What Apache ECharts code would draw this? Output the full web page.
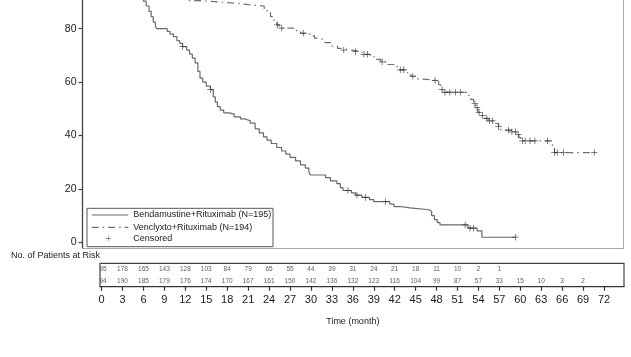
<!DOCTYPE html>
<html><head><meta charset="utf-8">
<script src="https://cdn.jsdelivr.net/npm/echarts@6/dist/echarts.min.js"></script>
<style>html,body{margin:0;padding:0;background:#fff}#c{width:631px;height:357px}</style>
</head><body><div id="c"></div>
<script>
const timeTicks = [0,3,6,9,12,15,18,21,24,27,30,33,36,39,42,45,48,51,54,57,60,63,66,69,72];
const survTicks = [0,20,40,60,80];
const seriesNames = ['Bendamustine+Rituximab (N=195)', 'Venclyxto+Rituximab (N=194)', 'Censored'];

const benSteps = [[0,100],[1,99],[2,98.5],[3,97.4],[4,95.5],[5,93.5],[5.5,92],[6,90.3],[6.4,88.5],[6.8,86.5],[7.1,84.5],[7.4,82.5],[7.7,81],[7.9,80],[9.4,79],[9.8,78],[10.3,77],[10.8,75.5],[11.2,74.5],[11.6,73.3],[12.2,72],[12.6,70.5],[13,69],[13.4,67.2],[13.8,64],[14.1,61.5],[14.5,60],[15,58.5],[15.6,57.2],[16,54.5],[16.3,52.5],[16.6,50.8],[17,49.5],[17.5,48.5],[18.3,48],[19,47],[19.9,46.2],[20.6,45.5],[21.3,44.6],[22,42.5],[22.6,41],[23.2,39.5],[23.7,38.3],[24.3,37],[25.1,35.5],[25.8,34.2],[26.4,33],[27,31.8],[27.8,30.5],[28.5,29],[29.2,27.8],[29.7,26.5],[29.9,25.2],[32.1,24.2],[32.8,23],[33.7,22],[34.2,20.5],[34.6,19.4],[35.8,18.5],[36.4,17.7],[37.3,16.8],[38.4,16],[39,15.2],[41.3,14.3],[41.9,13.4],[42.8,12.9],[44.2,12.2],[46.9,11.5],[47.3,10],[47.7,8.5],[48.1,7.4],[48.5,6.5],[52.5,5.3],[53.8,4.3],[54.5,1.9],[59.3,1.9]];
const benCensor = [11.6,15.6,35.3,36.6,37.8,40.7,52.1,52.8,53.3,59.3];

const venSteps = [[0,100],[1.5,99.5],[3,99],[4.5,98],[6,97],[7.5,96],[9,94.5],[10,93],[11,91.5],[12,90.5],[14,90],[17,89.5],[19.5,89],[21,88.5],[23.3,87.5],[23.7,86],[24.2,84.5],[24.7,83],[25.1,81.4],[25.5,80.2],[27.5,79.3],[28.5,78.3],[29.8,77.4],[30.5,76.5],[31.1,75.8],[32,74.8],[33,73.5],[33.8,72.6],[34.5,72],[35.8,71.4],[37.3,70.4],[38.5,69.5],[39.3,68.5],[40,67.6],[41,66.6],[41.9,65.8],[42.7,64.6],[43.7,63.5],[44.3,62.2],[45,61.2],[45.7,60.6],[48.3,59],[48.6,57.2],[49,56.2],[52.6,55],[52.9,53.5],[53.3,52],[53.6,50.5],[53.9,48.7],[54.3,47.5],[54.8,46.4],[55.4,45.5],[56.3,44.5],[56.9,43.3],[57.2,42],[58.8,41.4],[59.4,40.3],[59.8,39.2],[60.1,38],[64.6,35.5],[64.9,33.6],[70.6,33.6]];
const venCensor = [25.2,25.8,28.9,34.7,36.4,37.6,38.1,40.2,42.8,43.3,44.6,47.8,48.8,49.2,49.9,50.7,51.4,53.5,53.8,54.1,54.6,55.2,55.6,56,56.9,58.3,58.8,59.3,59.7,60.3,60.7,61.4,62.1,63.9,64.9,65.3,66.2,70.6];

const riskTimes = timeTicks;
const riskBen = [95,178,165,143,128,103,84,79,65,55,44,39,31,24,21,18,11,10,2,1];
const riskVen = [94,190,185,179,176,174,170,167,161,150,142,136,132,123,116,104,99,87,57,33,15,10,3,2];

function survAt(steps, t) {
  let v = steps[0][1];
  for (const [st, sv] of steps) { if (st <= t) v = sv; else break; }
  return v;
}
const plus = 'path://M-0.12,-1H0.12V1H-0.12Z M-1,-0.12H1V0.12H-1Z';
const FONT = 'Liberation Sans, Arial, sans-serif';

const chart = echarts.init(document.getElementById('c'), null, {renderer: 'canvas'});
const riskData = [];
riskBen.forEach((n, i) => riskData.push({value: [riskTimes[i], 3, n], label: i === 0 ? {offset: [1.5, 0]} : undefined}));
riskVen.forEach((n, i) => riskData.push({value: [riskTimes[i], 1, n], label: i === 0 ? {offset: [1.5, 0]} : undefined}));

chart.setOption({
  backgroundColor: '#fff',
  animation: false,
  textStyle: {fontFamily: FONT},
  grid: [
    {left: 82.5, width: 540.5, top: 0, height: 248.5, show: false},
    {left: 100, width: 524, top: 263.3, height: 23.4, show: true, borderColor: '#444', borderWidth: 1.2, backgroundColor: 'transparent'}
  ],
  xAxis: [
    {gridIndex: 0, type: 'value', min: -2.737, max: 74.72,
     axisLine: {show: true, onZero: false, lineStyle: {color: '#a8a8a8', width: 1}},
     axisTick: {show: false}, axisLabel: {show: false}, splitLine: {show: false}},
    {gridIndex: 1, type: 'value', min: -0.229, max: 74.86,
     name: 'Time (month)', nameLocation: 'middle', nameGap: 30,
     nameTextStyle: {fontSize: 9, color: '#222', padding: [0, 18.4, 0, 0]},
     axisLine: {show: true, lineStyle: {color: '#333', width: 1.2}},
     axisTick: {show: true, length: 4, customValues: timeTicks, lineStyle: {color: '#333', width: 1.2}},
     axisLabel: {customValues: timeTicks, fontSize: 11, color: '#1a1a1a', margin: 8},
     splitLine: {show: false}}
  ],
  yAxis: [
    {gridIndex: 0, type: 'value', min: -2.32, max: 90.75,
     axisLine: {show: true, onZero: false, lineStyle: {color: '#444', width: 1.3}},
     axisTick: {show: true, length: 4, customValues: survTicks, lineStyle: {color: '#444', width: 1.2}},
     axisLabel: {customValues: survTicks, fontSize: 10.5, color: '#1a1a1a', margin: 6},
     splitLine: {show: false}},
    {gridIndex: 1, type: 'value', min: 0, max: 4, show: false},
    {gridIndex: 0, type: 'value', min: -2.32, max: 90.75, position: 'right',
     axisLine: {show: true, onZero: false, lineStyle: {color: '#a8a8a8', width: 1}},
     axisTick: {show: false}, axisLabel: {show: false}, splitLine: {show: false}}
  ],
  series: [
    {name: seriesNames[0], type: 'line', xAxisIndex: 0, yAxisIndex: 0, step: 'end', showSymbol: false,
     data: benSteps, lineStyle: {color: '#6a6a6a', width: 1.2}, z: 3},
    {name: seriesNames[1], type: 'line', xAxisIndex: 0, yAxisIndex: 0, step: 'end', showSymbol: false,
     data: venSteps, lineStyle: {color: '#707070', width: 1.2, type: [7, 4, 1.5, 4]}, z: 3},
    {name: seriesNames[2], type: 'scatter', xAxisIndex: 0, yAxisIndex: 0, symbol: plus, symbolSize: 6.5,
     data: benCensor.map(t => [t, survAt(benSteps, t)]).concat(venCensor.map(t => [t, survAt(venSteps, t)])),
     itemStyle: {color: '#333'}, z: 4},
    {name: 'risk', type: 'scatter', xAxisIndex: 1, yAxisIndex: 1, symbolSize: 0.1,
     itemStyle: {color: 'transparent'},
     label: {show: true, position: 'inside', formatter: p => p.value[2], fontSize: 6.5, color: '#333'},
     data: riskData}
  ],
  graphic: [
    {type: 'text', left: 11, top: 251.5, style: {text: 'No. of Patients at Risk', fontSize: 9, fill: '#1a1a1a', fontFamily: FONT}},
    {type: 'rect', shape: {x: 87, y: 208.3, width: 186, height: 38.4}, style: {fill: '#fff', stroke: '#555', lineWidth: 1}, z: 10},
    {type: 'line', shape: {x1: 91.7, y1: 215, x2: 128.3, y2: 215}, style: {stroke: '#6a6a6a', lineWidth: 1.2}, z: 11},
    {type: 'line', shape: {x1: 91.7, y1: 227.3, x2: 128.3, y2: 227.3}, style: {stroke: '#707070', lineWidth: 1.2, lineDash: [7, 4, 1.5, 4]}, z: 11},
    {type: 'text', x: 133.3, y: 215, style: {text: seriesNames[0], fontSize: 9, fill: '#1a1a1a', fontFamily: FONT, verticalAlign: 'middle'}, z: 11},
    {type: 'text', x: 133.3, y: 227.3, style: {text: seriesNames[1], fontSize: 9, fill: '#1a1a1a', fontFamily: FONT, verticalAlign: 'middle'}, z: 11},
    {type: 'text', x: 108.3, y: 239, style: {text: '+', fontSize: 10, fill: '#888', fontFamily: FONT, align: 'center', verticalAlign: 'middle'}, z: 11},
    {type: 'text', x: 133.3, y: 239, style: {text: seriesNames[2], fontSize: 9, fill: '#1a1a1a', fontFamily: FONT, verticalAlign: 'middle'}, z: 11}
  ]
});
</script></body></html>
